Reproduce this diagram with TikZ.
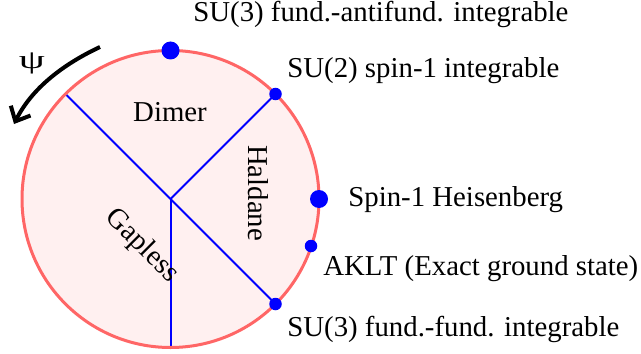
\documentclass[tikz,border=0pt]{standalone}
\usepackage{fontspec}
\setmainfont{Liberation Serif}
\usetikzlibrary{arrows.meta}
\definecolor{ringred}{RGB}{255,102,102}
\definecolor{ringfill}{RGB}{255,240,240}
\begin{document}
\begin{tikzpicture}[x=0.5pt,y=-0.5pt, font=\fontsize{14.4}{17}\selectfont,
  phase/.style={draw=blue, line width=1pt},
  bigdot/.style={circle, fill=blue, inner sep=0pt, minimum size=9pt},
  smalldot/.style={circle, fill=blue, inner sep=0pt, minimum size=6.25pt},
  lab/.style={anchor=base west, inner sep=0pt}]
\useasboundingbox (0,0) rectangle (641,353);
\coordinate (C) at (170.5,199);
\fill[ringfill] (C) circle[radius=74.25pt];
\coordinate (ul) at (65.5,94);
\coordinate (bot) at (170.5,347.5);
\coordinate (urp) at (275.5,94);
\coordinate (lrp) at (275.5,304);
\draw[phase] (C) -- (ul);
\draw[phase] (C) -- (urp);
\draw[phase] (C) -- (lrp);
\draw[phase] (C) -- (bot);
\draw[ringred, line width=1.5pt] (C) circle[radius=74.25pt];
\node[bigdot] (top) at (170.5,50.5) {};
\node[smalldot] (ur) at (urp) {};
\node[bigdot] (right) at (319,199) {};
\node[smalldot] (aklt) at (311,246) {};
\node[smalldot] (lr) at (lrp) {};
\node[lab] (ltop) at (193,22) {SU(3) fund.-antifund. integrable};
\node[lab] (lur) at (287,77) {SU(2) spin-1 integrable};
\node[lab] (lright) at (348,206) {Spin-1 Heisenberg};
\node[lab] (laklt) at (323,275) {AKLT (Exact ground state)};
\node[lab] (llr) at (287,336) {SU(3) fund.-fund. integrable};
\node[anchor=base, inner sep=0pt] (dimer) at (170,121) {Dimer};
\node[rotate=-90, inner sep=0pt] (haldane) at (258,193) {Haldane};
\node[rotate=-45, inner sep=0pt] (gapless) at (142,246) {Gapless};
\coordinate (a1) at (100,47);
\coordinate (a2) at (14,124);
\draw[line width=2pt, -{Straight Barb[length=6pt,width=11pt]}] (a1) .. controls (63.7,64) and (32,88) .. (a2);
\node[inner sep=0pt, xscale=1.6] (psi) at (32,63) {\fontsize{13}{15}\selectfont ψ};
\end{tikzpicture}
\end{document}
